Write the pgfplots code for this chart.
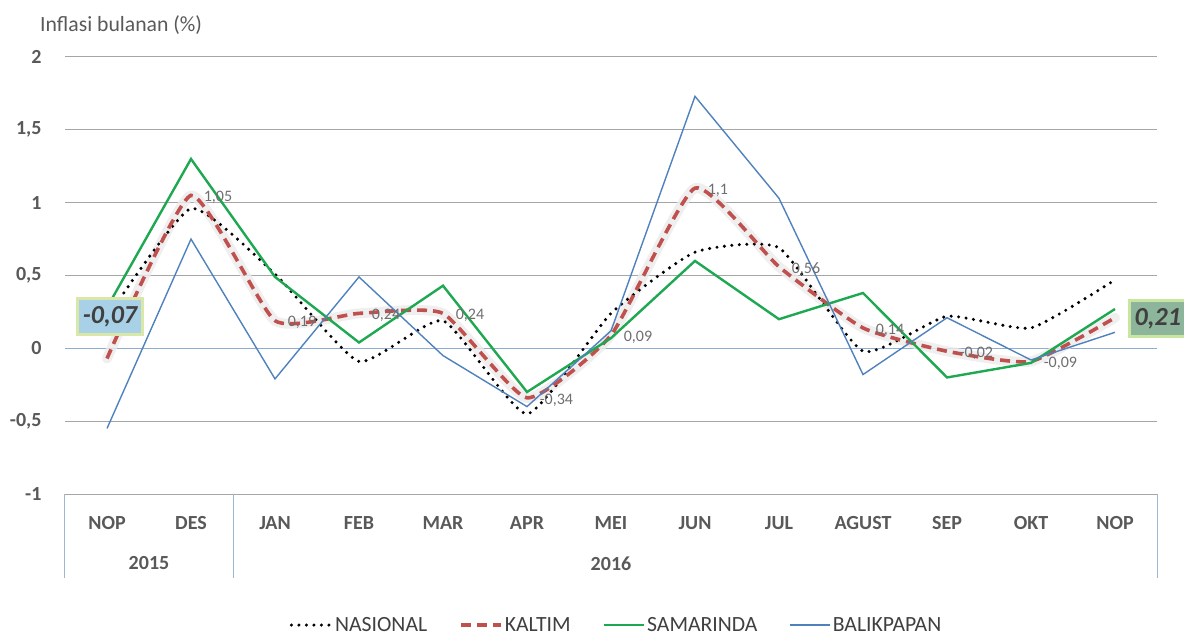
\documentclass[border=0pt]{standalone}
\usepackage{fontspec}
\setmainfont{Carlito}
\usepackage{pgfplots}
\usepackage{pgfplotstable}
\pgfplotsset{compat=1.18}
\definecolor{nas}{HTML}{000000}
\definecolor{kal}{HTML}{C0504D}
\definecolor{sam}{HTML}{1DA851}
\definecolor{bal}{HTML}{4F81BD}
\definecolor{gridc}{HTML}{A6A6A6}
\definecolor{zeroc}{HTML}{8EADD0}
\definecolor{sepc}{HTML}{9BB7D4}
\definecolor{txt}{HTML}{595959}
\definecolor{lbl}{HTML}{6E6E6E}
\definecolor{boxa}{HTML}{A8D0E6}
\definecolor{boxb}{HTML}{8DB59B}
\definecolor{glowa}{HTML}{D9E8A8}
\definecolor{glowb}{HTML}{C9E6A0}
\definecolor{legtxt}{HTML}{404040}

\pgfplotstableread{
x nas kal sam bal lab
0 0.21 -0.07 0.28 -0.55 {}
1 0.96 1.05 1.30 0.75 {1,05}
2 0.51 0.19 0.49 -0.21 {0,19}
3 -0.09 0.24 0.04 0.49 {0,24}
4 0.19 0.24 0.43 -0.05 {0,24}
5 -0.45 -0.34 -0.30 -0.40 {-0,34}
6 0.24 0.09 0.07 0.12 {0,09}
7 0.66 1.10 0.60 1.73 {1,1}
8 0.69 0.56 0.20 1.03 {0,56}
9 -0.02 0.14 0.38 -0.18 {0,14}
10 0.22 -0.02 -0.20 0.21 {-0,02}
11 0.14 -0.09 -0.10 -0.08 {-0,09}
12 0.47 0.21 0.27 0.11 {}
}\data

\begin{document}
\begin{tikzpicture}[x=1pt,y=1pt]
\useasboundingbox (0,0) rectangle (1184,635);
\node[anchor=west,font=\fontsize{21.7}{26}\selectfont,text=txt,inner sep=0pt] at (40,610) {Inflasi bulanan (\%)};
\begin{axis}[
  at={(65pt,141pt)}, anchor=south west,
  width=1092pt, height=437pt, scale only axis,
  xmin=-0.5, xmax=12.5, ymin=-1, ymax=2,
  axis line style={draw=none}, major tick length=0pt,
  ytick={-1,-0.5,0,0.5,1,1.5,2},
  yticklabels={{-1},{-0,5},{0},{0,5},{1},{1,5},{2}},
  ymajorgrids, grid style={gridc, line width=1pt},
  extra y ticks={0}, extra y tick labels={},
  extra y tick style={grid style={zeroc, line width=1.2pt}},
  xtick={0,...,12},
  xticklabels={NOP,DES,JAN,FEB,MAR,APR,MEI,JUN,JUL,AGUST,SEP,OKT,NOP},
  ticklabel style={font=\fontsize{20}{24}\selectfont\bfseries, text=txt},
  xticklabel style={anchor=center, yshift=-29pt},
  yticklabel style={anchor=east, xshift=-20pt},
  clip=false,
  legend style={at={(0.505,-0.30)}, anchor=center, draw=none, fill=none,
    legend columns=4, font=\fontsize{21.7}{26}\selectfont, text=legtxt,
    /tikz/every even column/.append style={column sep=30pt}},
  legend cell align=left,
  legend image code/.code={\draw[#1] (0pt,0pt) -- (40pt,0pt);},
]
\addplot[forget plot, smooth, tension=0.3, line width=10pt, color=black!8, opacity=0.8, line join=round, line cap=round]
  table[x=x,y=kal] \data;
\addplot[smooth, tension=0.3, color=nas, line width=3.4pt, dash pattern=on 0pt off 7.5pt, line cap=round]
  table[x=x,y=nas] \data;
\addlegendentry{NASIONAL}
\addplot[smooth, tension=0.3, color=kal, line width=3.6pt, dash pattern=on 10pt off 6pt,
  nodes near coords, point meta=explicit symbolic,
  nodes near coords style={anchor=west, font=\fontsize{16}{19}\selectfont, text=lbl, xshift=9pt, yshift=-2pt, inner sep=2pt}]
  table[x=x,y=kal,meta=lab] \data;
\addlegendentry{KALTIM}
\addplot[color=sam, line width=2.4pt]
  table[x=x,y=sam] \data;
\addlegendentry{SAMARINDA}
\addplot[color=bal, line width=1.4pt]
  table[x=x,y=bal] \data;
\addlegendentry{BALIKPAPAN}
\draw[sepc, line width=1pt] (axis cs:-0.5,-1) -- (axis cs:-0.5,-1.58);
\draw[sepc, line width=1pt] (axis cs:1.5,-1) -- (axis cs:1.5,-1.58);
\draw[sepc, line width=1pt] (axis cs:12.5,-1) -- (axis cs:12.5,-1.58);
\node[font=\fontsize{20}{24}\selectfont\bfseries, text=txt] at (axis cs:0.5,-1.477) {2015};
\node[font=\fontsize{20}{24}\selectfont\bfseries, text=txt] at (axis cs:6,-1.477) {2016};
\node[fill=boxa, draw=glowa, line width=3pt, font=\fontsize{26}{30}\selectfont\bfseries\itshape, text=legtxt, inner xsep=5pt, minimum height=36pt] at (axis cs:0.036,0.22) {-0,07};
\node[fill=boxb, draw=glowb, line width=3pt, font=\fontsize{26}{30}\selectfont\bfseries\itshape, text=legtxt, inner xsep=5pt, minimum height=36pt] at (axis cs:12.51,0.206) {0,21};
\end{axis}
\end{tikzpicture}
\end{document}
